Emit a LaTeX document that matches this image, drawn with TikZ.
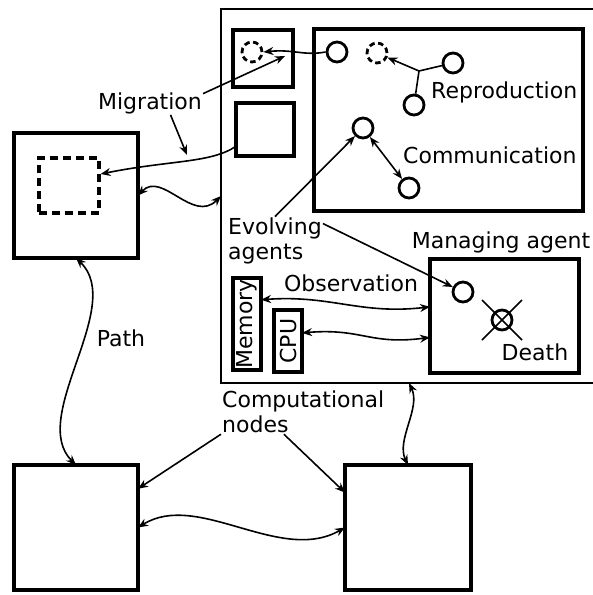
\documentclass[tikz,border=0pt]{standalone}
\usepackage{fontspec}
\setmainfont{DejaVu Sans}
\usetikzlibrary{arrows.meta}
\tikzset{
  hostline/.style   = {draw,line width=1.6pt,inner sep=0pt,outer sep=0pt},
  nodebox/.style    = {draw,line width=3.4pt,inner sep=0pt,outer sep=0pt},
  ghostbox/.style   = {draw,line width=3.2pt,dash pattern=on 8pt off 5pt,inner sep=0pt},
  agent/.style      = {draw,circle,line width=2.8pt,minimum size=20pt,inner sep=0pt},
  ghostagent/.style = {agent,dash pattern=on 5.5pt off 3.5pt},
  lbl/.style        = {inner sep=1pt,font=\fontsize{22}{25}\selectfont},
  duparr/.style     = {{Stealth[length=10pt,width=8pt]}-{Stealth[length=10pt,width=8pt]},line width=1.6pt},
  onearr/.style     = {-{Stealth[length=10pt,width=8pt]},line width=1.6pt}
}

\begin{document}
\begin{tikzpicture}[x=1pt,y=-1pt]
  \useasboundingbox (0,0) rectangle (593,595);
  \node[hostline,minimum width=376pt,minimum height=374pt] (host) at (409,196) {};
  \node[nodebox,minimum width=124pt,minimum height=125pt] (left) at (76,195.5) {};
  \node[ghostbox,minimum width=60pt,minimum height=55pt] (shadow) at (69,185.5) {};
  \node[nodebox,minimum width=124pt,minimum height=125pt] (lowleft) at (76,527.5) {};
  \node[nodebox,minimum width=126pt,minimum height=125pt] (lowright) at (408,527.5) {};
  \node[nodebox,minimum width=60pt,minimum height=57pt] (slotA) at (263,58.5) {};
  \node[nodebox,minimum width=58pt,minimum height=53pt] (slotB) at (265,129.5) {};
  \node[nodebox,minimum width=269pt,minimum height=182pt] (pool) at (448.5,120) {};
  \node[nodebox,minimum width=149pt,minimum height=114pt] (manager) at (504.5,316) {};
  \node[nodebox,minimum width=28pt,minimum height=92pt,font=\fontsize{22}{25}\selectfont] (memory) at (247,324) {\rotatebox{90}{Memory}};
  \node[nodebox,minimum width=28pt,minimum height=62pt,font=\fontsize{22}{25}\selectfont] (cpu) at (288,341) {\rotatebox{90}{CPU}};

  \node[ghostagent] (copyA) at (252,52) {};
  \node[agent] (mover) at (337,52) {};
  \node[ghostagent] (copyB) at (377,53) {};
  \node[agent] (parent1) at (453,63) {};
  \node[agent] (parent2) at (414,105) {};
  \node[agent] (talkA) at (363,128) {};
  \node[agent] (talkB) at (409,188) {};
  \node[agent] (newbie) at (463,292) {};
  \node[agent] (dying) at (502,320) {};
  \draw[line width=1.6pt] (dying) ++(-20,-20) -- ++(40,40) ++(0,-40) -- ++(-40,40);
  \coordinate (fork) at (419,71);
  \coordinate (migA) at (285,56);
  \coordinate (migB) at (187,155);

  \node[lbl] (migration) at (150,103) {Migration};
  \node[lbl,anchor=west] (reproduction) at (430,92) {Reproduction};
  \node[lbl,anchor=west] (communication) at (402,155) {Communication};
  \node[lbl,align=left,anchor=west] (evolving) at (227,241) {Evolving\\agents};
  \node[lbl] (managing) at (501,242) {Managing agent};
  \node[lbl] (observation) at (351,283) {Observation};
  \node[lbl] (death) at (535,352) {Death};
  \node[lbl] (path) at (121,338) {Path};
  \node[lbl,align=left,anchor=west] (computational) at (221,412) {Computational\\nodes};

  \draw[onearr] (mover.west) .. controls +(-22,4) and +(30,-3) .. (copyA.east);
  \draw[onearr] (migration.10) -- (migA);
  \draw[onearr] (migration.-30) -- (migB);
  \draw[onearr] (slotB.210) .. controls +(-25,17) and +(70,-14) .. (shadow.20);
  \draw[duparr] (left.east) .. controls +(24,-25) and +(-28,28) .. (host.west);
  \draw[line width=1.6pt] (parent1) -- (fork) -- (parent2);
  \draw[onearr] (fork) -- (copyB);
  \draw[duparr] (talkA) -- (talkB);
  \draw[onearr] (evolving.north) -- (talkA);
  \draw[onearr] (evolving.20) -- (newbie);
  \draw[duparr] (memory.60) .. controls +(70,-5) and +(-70,8) .. (manager.173);
  \draw[duparr] (cpu.30) .. controls +(60,-5) and +(-60,8) .. (manager.196);
  \draw[duparr] (left.south) .. controls +(50,48) and +(-48,-48) .. (lowleft.north);
  \draw[duparr] (host.south) .. controls +(12,25) and +(-12,-25) .. (lowright.north);
  \draw[onearr] (computational.south west) -- (lowleft.32);
  \draw[onearr] (computational.229) -- (lowright.151);
  \draw[duparr] (lowleft.east) .. controls +(60,-37) and +(-65,37) .. (lowright.west);
\end{tikzpicture}
\end{document}
